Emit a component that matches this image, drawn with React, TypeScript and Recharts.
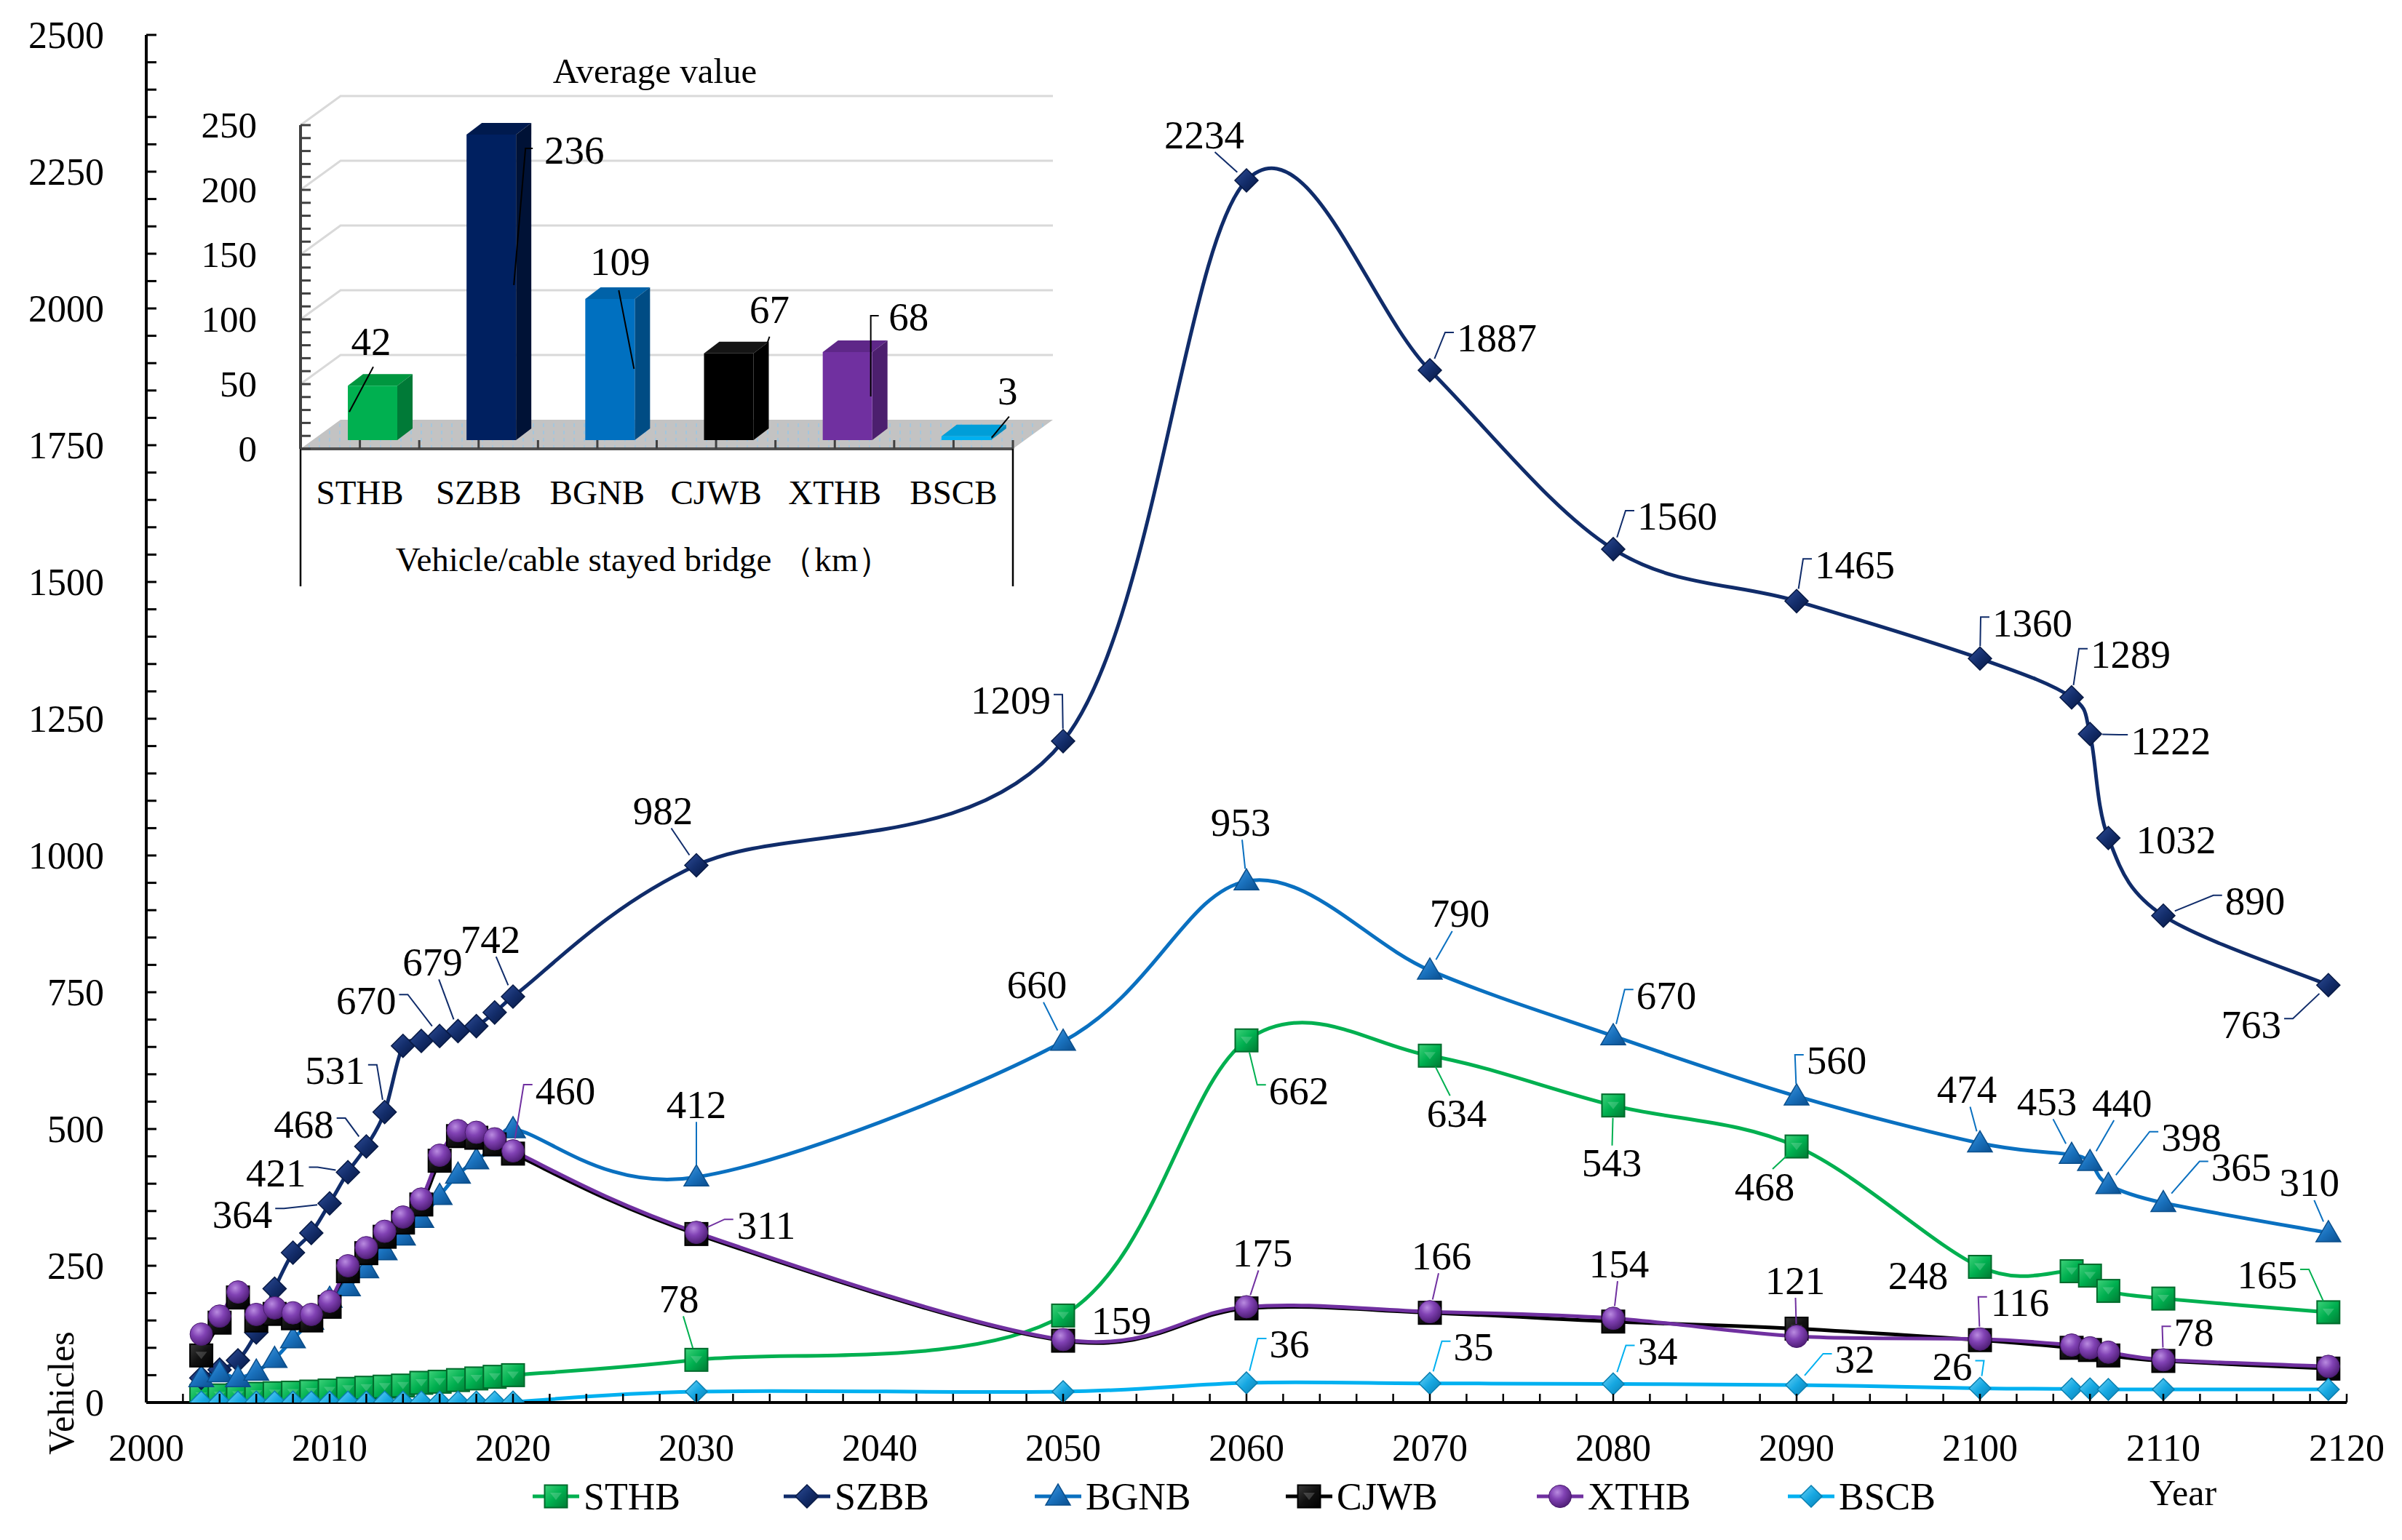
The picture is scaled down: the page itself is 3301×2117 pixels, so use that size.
import React from 'react';
import { LineChart, Line, XAxis, YAxis, BarChart, Bar, CartesianGrid, LabelList, Label } from 'recharts';

// ---------------- data ----------------
const years = [2003, 2004, 2005, 2006, 2007, 2008, 2009, 2010, 2011, 2012, 2013, 2014, 2015, 2016, 2017, 2018, 2019, 2020,
  2030, 2050, 2060, 2070, 2080, 2090, 2100, 2105, 2106, 2107, 2110, 2119];
const sthb = [12, 13, 14, 16, 17, 18, 20, 22, 25, 27, 29, 31, 36, 38, 41, 44, 47, 50,
  78, 159, 662, 634, 543, 468, 248, 240, 232, 204, 190, 165];
const szbb = [45, 60, 77, 128, 208, 274, 310, 364, 421, 468, 531, 652, 661, 670, 679, 688, 713, 742,
  982, 1209, 2234, 1887, 1560, 1465, 1360, 1289, 1222, 1032, 890, 763];
const bgnb = [45, 54, 45, 57, 80, 116, 150, 190, 211, 244, 277, 304, 336, 378, 417, 443, 467, 500,
  412, 660, 953, 790, 670, 560, 474, 453, 440, 398, 365, 310];
const cjwb = [86, 146, 192, 150, 162, 154, 150, 175, 240, 273, 303, 329, 362, 442, 487, 484, 472, 455,
  308, 113, 172, 164, 148, 135, 114, 100, 96, 86, 76, 62];
const xthb = [125, 158, 202, 161, 173, 164, 161, 185, 250, 283, 313, 339, 372, 452, 497, 494, 482, 460,
  311, 115, 175, 166, 154, 121, 116, 105, 100, 92, 78, 66];
const bscb = [1, 1, 1, 1, 1, 1, 1, 1, 1, 1, 1, 1, 1, 1, 1, 1, 1, 1,
  20, 20, 36, 35, 34, 32, 26, 25, 25, 24, 24, 24];

const xTicks = Array.from({ length: 61 }, (_, i) => 2000 + i * 2);
const yTicks = Array.from({ length: 51 }, (_, i) => i * 50);

const insetNames = ['STHB', 'SZBB', 'BGNB', 'CJWB', 'XTHB', 'BSCB'];
const insetValues = [42, 236, 109, 67, 68, 3];
const insetTicks = Array.from({ length: 26 }, (_, i) => i * 10);

// ---------------- label placement (offsets from the point, px) ----------------
const sthbLabels: Record<number, [number, number]> = {
  2030: [-24, -84], 2050: [80, 7], 2060: [72, 69], 2070: [37, 79], 2080: [-2, 79], 2090: [-44, 55], 2100: [-85, 12], 2119: [-84, -51],
};
const szbbLabels: Record<number, [number, number]> = {
  2010: [-120, 15], 2011: [-99, 1], 2012: [-86, -31], 2013: [-68, -57], 2016: [-101, -49], 2017: [-35, -95], 2020: [-31, -79],
  2030: [-46, -75], 2050: [-72, -56], 2060: [-58, -63], 2070: [92, -44], 2080: [88, -45], 2090: [80, -50], 2100: [72, -49],
  2105: [81, -59], 2106: [111, 9], 2107: [93, 3], 2110: [126, -20], 2119: [-106, 54],
};
const bgnbLabels: Record<number, [number, number]> = {
  2030: [0, -100], 2050: [-36, -78], 2060: [-8, -81], 2070: [41, -78], 2080: [73, -56], 2090: [55, -49], 2100: [-18, -74],
  2105: [-34, -73], 2106: [44, -81], 2107: [114, -65], 2110: [107, -49], 2119: [-26, -69],
};
const cjwbLabels: Record<number, [number, number]> = {};
const xthbLabels: Record<number, [number, number]> = {
  2020: [72, -83], 2030: [96, -10], 2060: [22, -74], 2070: [16, -77], 2080: [8, -75], 2090: [-2, -77], 2100: [55, -50], 2110: [42, -38],
};
const bscbLabels: Record<number, [number, number]> = {
  2060: [59, -53], 2070: [60, -50], 2080: [61, -45], 2090: [80, -35], 2100: [-38, -30],
};

// inset label placement: [dx, dy] of label from bar front-top centre, then leader polyline
const insetLabelPos: [number, number, number[]][] = [
  [-2, -61, [1, -26, -32, 36]],
  [114, 22, [57, 19, 47, 19, 31, 207]],
  [14, -51, [12, -12, 33, 96]],
  [56, -60, [56, -23, 53, -14]],
  [84, -48, [43, -50, 32, -50, 32, 61]],
  [57, -62, [59, -27, 35, 2]],
];

// ---------------- styles ----------------
const FONT = '"Liberation Serif", "Times New Roman", serif';
const series = [
  { key: 'STHB', color: '#00B050', marker: 'square', fill: 'url(#gSTHB)', labels: sthbLabels },
  { key: 'SZBB', color: '#102C6A', marker: 'diamond', fill: 'url(#gSZBB)', labels: szbbLabels },
  { key: 'BGNB', color: '#0A70C0', marker: 'triangle', fill: 'url(#gBGNB)', labels: bgnbLabels },
  { key: 'CJWB', color: '#000000', marker: 'square', fill: 'url(#gCJWB)', labels: cjwbLabels },
  { key: 'XTHB', color: '#7030A0', marker: 'circle', fill: 'url(#gXTHB)', labels: xthbLabels },
  { key: 'BSCB', color: '#00B0F0', marker: 'diamondSmall', fill: 'url(#gBSCB)', labels: bscbLabels },
];
const barFaces = [
  { front: '#00B050', side: '#007A37', top: '#00963F' },
  { front: '#002060', side: '#001236', top: '#001A4E' },
  { front: '#0070C0', side: '#004C84', top: '#0062A8' },
  { front: '#000000', side: '#000000', top: '#151515' },
  { front: '#7030A0', side: '#4C1F6E', top: '#5E2788' },
  { front: '#00B0F0', side: '#0088BA', top: '#009ED8' },
];

const rows = years.map((year, i) => ({
  year, STHB: sthb[i], SZBB: szbb[i], BGNB: bgnb[i], CJWB: cjwb[i], XTHB: xthb[i], BSCB: bscb[i],
}));
const insetRows = insetNames.map((name, i) => ({ name, value: insetValues[i] }));

// ---------------- Excel-like smoothing curve ----------------
function excelCurve(context: any) {
  let pts: number[][] = [];
  return {
    areaStart() {},
    areaEnd() {},
    lineStart() { pts = []; },
    point(x: number, y: number) { pts.push([+x, +y]); },
    lineEnd() {
      const n = pts.length;
      if (!n) return;
      context.moveTo(pts[0][0], pts[0][1]);
      for (let i = 0; i < n - 1; i++) {
        const p0 = pts[i - 1] || pts[i];
        const p1 = pts[i];
        const p2 = pts[i + 1];
        const p3 = pts[i + 2] || pts[i + 1];
        const d12 = Math.hypot(p2[0] - p1[0], p2[1] - p1[1]);
        let v1x = (p2[0] - p0[0]) / 6, v1y = (p2[1] - p0[1]) / 6;
        let v2x = (p3[0] - p1[0]) / 6, v2y = (p3[1] - p1[1]) / 6;
        const l1 = Math.hypot(v1x, v1y), l2 = Math.hypot(v2x, v2y);
        if (l1 > d12 / 2 && l1 > 0) { v1x *= d12 / 2 / l1; v1y *= d12 / 2 / l1; }
        if (l2 > d12 / 2 && l2 > 0) { v2x *= d12 / 2 / l2; v2y *= d12 / 2 / l2; }
        context.bezierCurveTo(p1[0] + v1x, p1[1] + v1y, p2[0] - v2x, p2[1] - v2y, p2[0], p2[1]);
      }
    },
  };
}

// ---------------- markers ----------------
function markerShape(kind: string, cx: number, cy: number, fill: string, stroke: string, key?: any) {
  if (kind === 'square') {
    const s = 31;
    return (
      <g key={key}>
        <rect x={cx - s / 2} y={cy - s / 2} width={s} height={s} fill={fill} stroke={stroke} strokeWidth={2} />
        <polygon points={`${cx - 8},${cy - 5} ${cx + 8},${cy - 5} ${cx},${cy + 5}`} fill="#ffffff" opacity={0.18} />
      </g>
    );
  }
  if (kind === 'diamond' || kind === 'diamondSmall') {
    const r = kind === 'diamond' ? 16 : 15;
    return (
      <polygon key={key} points={`${cx},${cy - r} ${cx + r},${cy} ${cx},${cy + r} ${cx - r},${cy}`} fill={fill} stroke={stroke} strokeWidth={1.5} />
    );
  }
  if (kind === 'triangle') {
    return (
      <polygon key={key} points={`${cx},${cy - 17} ${cx + 17},${cy + 12} ${cx - 17},${cy + 12}`} fill={fill} stroke={stroke} strokeWidth={1.5} />
    );
  }
  return <circle key={key} cx={cx} cy={cy} r={15.5} fill={fill} stroke={stroke} strokeWidth={1} />;
}

const markerStroke: Record<string, string> = {
  STHB: '#006B2C', SZBB: '#081A45', BGNB: '#0B4F8C', CJWB: '#000000', XTHB: '#4A1C6E', BSCB: '#0A7FB0',
};

// ---------------- labels with leader lines ----------------
function leaderLine(px: number, py: number, lx: number, ly: number, hw: number, hh: number, color: string) {
  const dx = px - lx, dy = py - ly;
  let pts: number[][];
  if (Math.abs(dx) > hw + 4) {
    // label beside the point: short horizontal hook at the label edge
    const s = Math.sign(dx);
    const hx = lx + s * hw, hy = ly - 8;
    const kx = hx + s * 12;
    const len = Math.hypot(px - kx, py - hy);
    if (len < 30) return null;
    const ex = px - ((px - kx) / len) * 17, ey = py - ((py - hy) / len) * 17;
    pts = [[hx, hy], [kx, hy], [ex, ey]];
  } else {
    const s = Math.sign(dy) || 1;
    const sx = lx + dx * 0.25, sy = ly + s * hh;
    const len = Math.hypot(px - sx, py - sy);
    if (len < 30) return null;
    const ex = px - ((px - sx) / len) * 17, ey = py - ((py - sy) / len) * 17;
    pts = [[sx, sy], [ex, ey]];
  }
  return <polyline points={pts.map((p) => p.join(',')).join(' ')} fill="none" stroke={color} strokeWidth={2} />;
}

function makeLineLabel(labels: Record<number, [number, number]>, color: string) {
  return (props: any) => {
    const { index, value } = props;
    const year = years[index];
    const off = labels[year];
    if (!off) return null;
    const px = props.viewBox && typeof props.viewBox.x === 'number' ? props.viewBox.x : props.x;
    const py = props.viewBox && typeof props.viewBox.y === 'number' ? props.viewBox.y : props.y;
    const lx = px + off[0], ly = py + off[1];
    const txt = String(value);
    const hw = txt.length * 13.75 + 4;
    return (
      <g key={`lbl-${year}`}>
        {leaderLine(px, py, lx, ly, hw, 24, color)}
        <text x={lx} y={ly} textAnchor="middle" dominantBaseline="central" fontFamily={FONT} fontSize={55} fill="#000">{txt}</text>
      </g>
    );
  };
}

// ---------------- main axes ticks ----------------
const MainXTick = (props: any) => {
  const { x, y, payload } = props;
  const v = payload.value;
  return (
    <g>
      <line x1={x} y1={y} x2={x} y2={y - 12} stroke="#000" strokeWidth={2.5} />
      {v % 10 === 0 ? (
        <text x={x} y={y + 62} textAnchor="middle" dominantBaseline="central" fontFamily={FONT} fontSize={52} fill="#000">{v}</text>
      ) : null}
    </g>
  );
};

const MainYTick = (props: any) => {
  const { x, y, payload } = props;
  const v = payload.value;
  return (
    <g>
      <line x1={x} y1={y} x2={x + 14} y2={y} stroke="#000" strokeWidth={3} />
      {v % 250 === 0 ? (
        <text x={x - 58} y={y} textAnchor="end" dominantBaseline="central" fontFamily={FONT} fontSize={52} fill="#000">{v}</text>
      ) : null}
    </g>
  );
};

// ---------------- inset geometry ----------------
const IN_W = 1500, IN_H = 850;
const IN_LEFT = 413, IN_RIGHT = 1392, IN_TOP = 172, IN_BOTTOM = 617;
const DEPTH_X = 55, DEPTH_Y = 40;
const BAND = (IN_RIGHT - IN_LEFT) / insetNames.length;
const FACE_DX = 17, FACE_DY = 12, SIDE_X = 21, SIDE_Y = 16;

const InsetGridLine = (props: any) => {
  const { x1, x2, y1 } = props;
  const v = Math.round(((IN_BOTTOM - y1) / (IN_BOTTOM - IN_TOP)) * 250);
  if (v === 0) {
    return (
      <polygon key={props.key}
        points={`${x1},${y1} ${x1 + DEPTH_X},${y1 - DEPTH_Y} ${x2 + DEPTH_X},${y1 - DEPTH_Y} ${x2},${y1}`}
        fill="url(#floorPat)" stroke="none" />
    );
  }
  if (v % 50 !== 0) return <g key={props.key} />;
  return (
    <polyline key={props.key}
      points={`${x1},${y1} ${x1 + DEPTH_X},${y1 - DEPTH_Y} ${x2 + DEPTH_X},${y1 - DEPTH_Y}`}
      fill="none" stroke="#D9D9D9" strokeWidth={3} />
  );
};

const InsetYTick = (props: any) => {
  const { x, y, payload } = props;
  const v = payload.value;
  return (
    <g>
      <line x1={x} y1={y} x2={x + 14} y2={y} stroke="#404040" strokeWidth={3} />
      {v % 50 === 0 ? (
        <text x={x - 60} y={y} textAnchor="end" dominantBaseline="central" fontFamily={FONT} fontSize={51} fill="#000">{v}</text>
      ) : null}
    </g>
  );
};

const InsetXTick = (props: any) => {
  const { x, y, payload, index } = props;
  return (
    <g>
      <line x1={x} y1={y} x2={x} y2={y - 12} stroke="#404040" strokeWidth={3} />
      <line x1={x + BAND / 2} y1={y} x2={x + BAND / 2} y2={y - 12} stroke="#404040" strokeWidth={3} />
      {index === 0 ? <line x1={x - BAND / 2} y1={y} x2={x - BAND / 2} y2={y + 189} stroke="#000" strokeWidth={2.5} /> : null}
      {index === insetNames.length - 1 ? <line x1={x + BAND / 2} y1={y} x2={x + BAND / 2} y2={y + 189} stroke="#000" strokeWidth={2.5} /> : null}
      <text x={x} y={y + 60} textAnchor="middle" dominantBaseline="central" fontFamily={FONT} fontSize={47} fill="#000">{payload.value}</text>
    </g>
  );
};

const Bar3D = (props: any) => {
  const { x, y, width, height, index } = props;
  const c = barFaces[index];
  const fx = x + FACE_DX, fy = y - FACE_DY;
  const h = Math.max(height, 2);
  return (
    <g>
      <polygon points={`${fx},${fy} ${fx + SIDE_X},${fy - SIDE_Y} ${fx + width + SIDE_X},${fy - SIDE_Y} ${fx + width},${fy}`} fill={c.top} />
      <polygon points={`${fx + width},${fy} ${fx + width + SIDE_X},${fy - SIDE_Y} ${fx + width + SIDE_X},${fy + h - SIDE_Y} ${fx + width},${fy + h}`} fill={c.side} />
      <rect x={fx} y={fy} width={width} height={h} fill={c.front} />
    </g>
  );
};

const InsetLabel = (props: any) => {
  const { index, value } = props;
  const vb = props.viewBox || props;
  const cx = vb.x + FACE_DX + vb.width / 2;
  const ty = vb.y - FACE_DY;
  const pos = insetLabelPos[index];
  if (!pos) return null;
  const pts: string[] = [];
  for (let i = 0; i < pos[2].length; i += 2) pts.push(`${cx + pos[2][i]},${ty + pos[2][i + 1]}`);
  return (
    <g key={`il-${index}`}>
      <polyline points={pts.join(' ')} fill="none" stroke="#000" strokeWidth={2} />
      <text x={cx + pos[0]} y={ty + pos[1]} textAnchor="middle" dominantBaseline="central" fontFamily={FONT} fontSize={55} fill="#000">{value}</text>
    </g>
  );
};

// ---------------- legend ----------------
const LegendContent = () => (
  <svg width={3301} height={70} style={{ display: 'block' }}>
    {series.map((s, i) => {
      const cx = 764 + i * 345;
      return (
        <g key={s.key}>
          <line x1={cx - 32} y1={35} x2={cx + 32} y2={35} stroke={s.color} strokeWidth={5} />
          {markerShape(s.marker, cx, 35, s.fill, markerStroke[s.key])}
          <text x={cx + 38} y={35} dominantBaseline="central" fontFamily={FONT} fontSize={52} fill="#000">{s.key}</text>
        </g>
      );
    })}
  </svg>
);

function Gradients() {
  return (
    <defs>
      <linearGradient id="gSTHB" x1="0" y1="0" x2="1" y2="1">
        <stop offset="0" stopColor="#3FD27A" />
        <stop offset="0.5" stopColor="#00B050" />
        <stop offset="1" stopColor="#007A33" />
      </linearGradient>
      <linearGradient id="gSZBB" x1="0" y1="0" x2="1" y2="1">
        <stop offset="0" stopColor="#2F4E98" />
        <stop offset="0.5" stopColor="#142E6C" />
        <stop offset="1" stopColor="#061640" />
      </linearGradient>
      <linearGradient id="gBGNB" x1="0" y1="0" x2="1" y2="1">
        <stop offset="0" stopColor="#4C9CE0" />
        <stop offset="0.5" stopColor="#1A72BE" />
        <stop offset="1" stopColor="#0B4E8E" />
      </linearGradient>
      <linearGradient id="gCJWB" x1="0" y1="0" x2="1" y2="1">
        <stop offset="0" stopColor="#3A3A3A" />
        <stop offset="0.5" stopColor="#111111" />
        <stop offset="1" stopColor="#000000" />
      </linearGradient>
      <radialGradient id="gXTHB" cx="0.38" cy="0.32" r="0.7">
        <stop offset="0" stopColor="#B98BE0" />
        <stop offset="0.45" stopColor="#8142B4" />
        <stop offset="1" stopColor="#4F1E76" />
      </radialGradient>
      <linearGradient id="gBSCB" x1="0" y1="0" x2="1" y2="1">
        <stop offset="0" stopColor="#6FD5F8" />
        <stop offset="0.5" stopColor="#17A8E2" />
        <stop offset="1" stopColor="#0A7DB0" />
      </linearGradient>
    </defs>
  );
}

export default function App() {
  return (
    <div style={{ position: 'absolute', left: 0, top: 0, width: 3301, height: 2117, background: '#ffffff', fontFamily: FONT }}>
      <LineChart width={3301} height={2117} data={rows} margin={{ top: 48, right: 76, bottom: 188, left: 200 }}>
        <Gradients />
        <XAxis dataKey="year" type="number" domain={[2000, 2120]} ticks={xTicks} interval={0} height={1}
          tickSize={0} tickMargin={0} tickLine={false} tick={<MainXTick />} axisLine={{ stroke: '#000', strokeWidth: 4 }} allowDataOverflow>
          <Label content={(p: any) => {
            const vb = p.viewBox || {};
            return <text x={vb.x + vb.width - 225} y={vb.y + 124} textAnchor="middle" dominantBaseline="central" fontFamily={FONT} fontSize={50} fill="#000">Year</text>;
          }} />
        </XAxis>
        <YAxis type="number" domain={[0, 2500]} ticks={yTicks} interval={0} width={1}
          tickSize={0} tickMargin={0} tickLine={false} tick={<MainYTick />} axisLine={{ stroke: '#000', strokeWidth: 4 }} allowDataOverflow>
          <Label content={(p: any) => {
            const vb = p.viewBox || {};
            const tx = vb.x - 116, ty = vb.y + vb.height - 13;
            return <text x={tx} y={ty} transform={`rotate(-90 ${tx} ${ty})`} textAnchor="middle" dominantBaseline="central" fontFamily={FONT} fontSize={50} fill="#000">Vehicles</text>;
          }} />
        </YAxis>
        {series.map((s) => (
          <Line key={s.key} dataKey={s.key} type={excelCurve as any} stroke={s.color} strokeWidth={5}
            isAnimationActive={false} activeDot={false}
            dot={(p: any) => markerShape(s.marker, p.cx, p.cy, s.fill, markerStroke[s.key], `${s.key}-${p.index}`)}>
            <LabelList dataKey={s.key} content={makeLineLabel(s.labels, s.color)} />
          </Line>
        ))}
      </LineChart>

      <div style={{ position: 'absolute', left: 0, top: 0, width: IN_W, height: IN_H }}>
        <BarChart width={IN_W} height={IN_H} data={insetRows}
          margin={{ top: IN_TOP, right: IN_W - IN_RIGHT, bottom: IN_H - IN_BOTTOM - 1, left: IN_LEFT - 1 }}>
          <defs>
            <pattern id="floorPat" width="14" height="10" patternUnits="userSpaceOnUse">
              <rect width="14" height="10" fill="#C3C3C3" />
              <rect x="4" y="2" width="2" height="5" fill="#A4C6DC" />
            </pattern>
          </defs>
          <CartesianGrid vertical={false} horizontal={InsetGridLine as any} stroke="none" />
          <XAxis dataKey="name" type="category" height={1} interval={0} tickSize={0} tickMargin={0} tickLine={false}
            tick={<InsetXTick />} axisLine={{ stroke: '#505050', strokeWidth: 4 }}>
            <Label content={(p: any) => {
              const vb = p.viewBox || {};
              return (
                <g>
                  <text x={vb.x + 472} y={vb.y + 152} textAnchor="middle" dominantBaseline="central" fontFamily={FONT} fontSize={47} fill="#000">Vehicle/cable stayed bridge （km）</text>
                  <text x={vb.x + 487} y={vb.y - 520} textAnchor="middle" dominantBaseline="central" fontFamily={FONT} fontSize={49} fill="#000">Average value</text>
                </g>
              );
            }} />
          </XAxis>
          <YAxis type="number" domain={[0, 250]} ticks={insetTicks} interval={0} width={1} tickSize={0} tickMargin={0}
            tickLine={false} tick={<InsetYTick />} axisLine={{ stroke: '#404040', strokeWidth: 4 }} />
          <Bar dataKey="value" barSize={68} isAnimationActive={false} shape={<Bar3D />}>
            <LabelList dataKey="value" content={InsetLabel as any} />
          </Bar>
        </BarChart>
      </div>

      <div style={{ position: 'absolute', left: 0, top: 2022, width: 3301, height: 70 }}>
        <LegendContent />
      </div>
    </div>
  );
}
